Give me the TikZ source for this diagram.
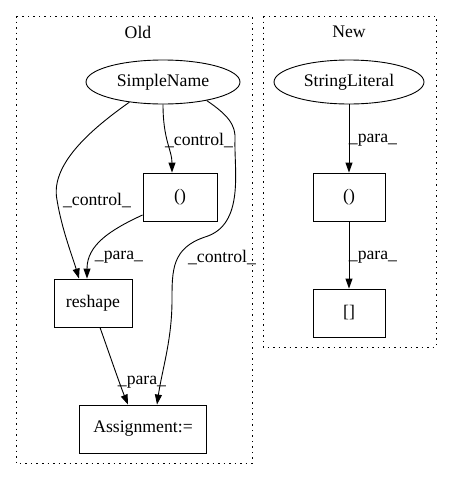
\documentclass[tikz,border=0pt]{standalone}
\usepackage{fontspec}
\setmainfont{Liberation Serif}
\usetikzlibrary{arrows.meta,shapes.geometric}
\begin{document}
\begin{tikzpicture}[x=1pt,y=-1pt,
  every node/.style={font=\fontsize{17.7}{20}\selectfont},
  cluster/.style={draw,line width=0.8pt,dash pattern=on 1.5pt off 4pt},
  rbox/.style={draw,line width=0.9pt,rectangle,minimum height=48pt,inner sep=0pt},
  ell/.style={draw,line width=0.9pt,ellipse,minimum height=44pt,inner sep=0pt},
  edge/.style={draw,line width=0.9pt,-{Triangle[length=10pt,width=7pt]}},
  lab/.style={inner sep=0pt}]
\useasboundingbox (0,0) rectangle (451,480);
% clusters
\draw[cluster] (16,16) rectangle (252,463);
\node[lab] (oldlab) at (138,32) {Old};
\draw[cluster] (263,16) rectangle (436,347);
\node[lab] (newlab) at (349,32) {New};
% Old nodes
\node[ell,minimum width=154pt] (sn) at (163,82) {SimpleName};
\node[rbox,minimum width=74pt] (ob) at (180,197) {()};
\node[rbox,minimum width=78pt] (rs) at (93,303) {reshape};
\node[rbox,minimum width=127pt] (as) at (143,429) {Assignment:=};
% New nodes
\node[ell,minimum width=150pt] (sl) at (349,82) {StringLiteral};
\node[rbox,minimum width=72pt] (nb) at (349,197) {()};
\node[rbox,minimum width=72pt] (sq) at (349,313) {[]};
% Old edges
\draw[edge] (sn.-90) .. controls (163,140) and (172,150) .. ([xshift=-8pt]ob.north);
\node[lab] (l1) at (199,140) {\_control\_};
\draw[edge] (sn.211) .. controls (90,130) and (50,165) .. (57,200) .. controls (62,230) and (72,255) .. ([xshift=-14pt]rs.north);
\node[lab] (l2) at (97,200) {\_control\_};
\draw[edge] ([yshift=-18pt]ob.west) .. controls (110,230) and (87,245) .. ([xshift=-6pt]rs.north);
\node[lab] (l3) at (119,257) {\_para\_};
\draw[edge] (sn.-23) .. controls (228,115) and (236,125) .. (235,140) .. controls (234,170) and (245,225) .. (205,237) .. controls (172,248) and (172,270) .. (172,300) .. controls (172,340) and (162,370) .. ([xshift=14pt]as.north);
\node[lab] (l4) at (222,257) {\_control\_};
\draw[edge] ([xshift=7pt]rs.south) .. controls (108,350) and (120,385) .. ([xshift=-15pt]as.north);
\node[lab] (l5) at (142,382) {\_para\_};
% New edges
\draw[edge] (sl.south) -- (nb.north);
\node[lab] (l6) at (373,140) {\_para\_};
\draw[edge] (nb.south) -- (sq.north);
\node[lab] (l7) at (373,257) {\_para\_};
\end{tikzpicture}
\end{document}
